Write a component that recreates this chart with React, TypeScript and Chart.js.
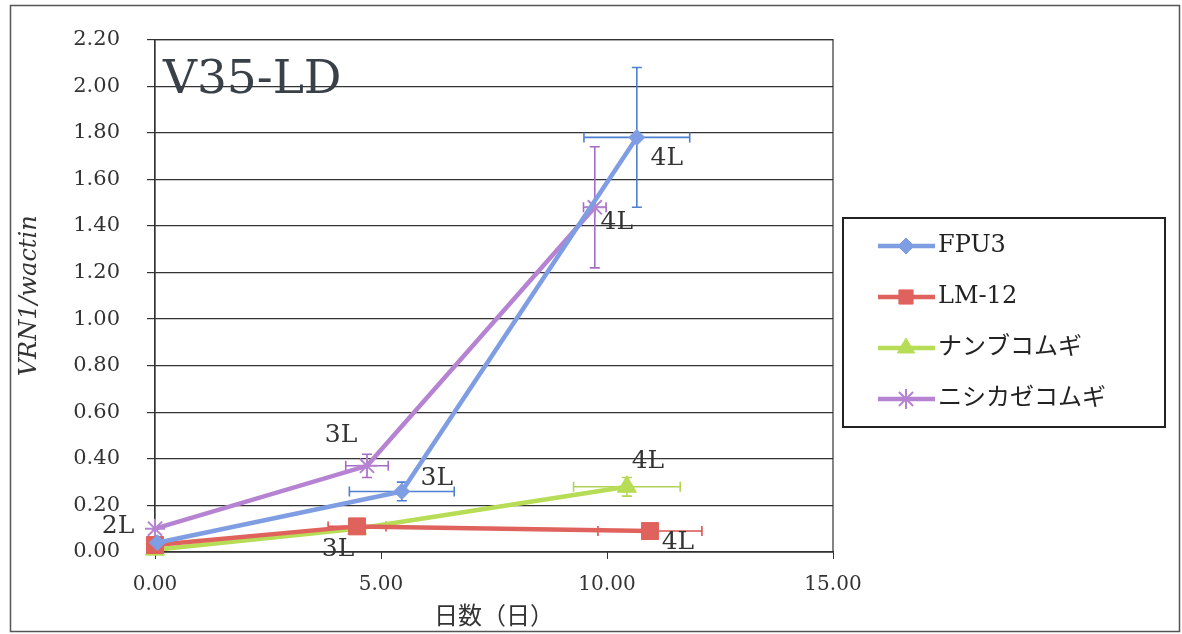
import React, { useEffect, useRef } from 'react';
import { Chart, registerables } from 'chart.js';
import { drawPoint } from 'chart.js/helpers';
Chart.register(...registerables);

// ---- data ----
const seriesNames = ['FPU3', 'LM-12', 'ナンブコムギ', 'ニシカゼコムギ'];

const fpu3X = [0.05, 5.46, 10.66];
const fpu3Y = [0.04, 0.26, 1.78];
const fpu3XErr = [0, 1.16, 1.17];
const fpu3YErr = [0, 0.04, 0.3];
const fpu3Labels = ['', '3L', '4L'];

const lm12X = [0, 4.47, 10.95];
const lm12Y = [0.03, 0.11, 0.09];
const lm12XErr = [0, 0.64, 1.15];
const lm12YErr = [0, 0, 0];
const lm12Labels = ['', '', '4L'];

const nanbuX = [0, 4.47, 10.44];
const nanbuY = [0.01, 0.1, 0.28];
const nanbuXErr = [0, 0, 1.18];
const nanbuYErr = [0, 0, 0.04];
const nanbuLabels = ['', '3L', '4L'];

const nishiX = [0, 4.69, 9.73];
const nishiY = [0.1, 0.37, 1.48];
const nishiXErr = [0, 0.47, 0.25];
const nishiYErr = [0, 0.05, 0.26];
const nishiLabels = ['2L', '3L', '4L'];

const yTicks = [0, 2.2, 0.2];
const xTicks = [0, 15, 5];

// ---- styles ----
const SERIF = "'DejaVu Serif', 'Noto Sans CJK JP', serif";
const GOTHIC = "'Noto Sans CJK JP', sans-serif";
const lineColors = ['#7f9de3', '#e0625c', '#b7dc55', '#b683d2'];
const errColors = ['#4f7fd0', '#d9534f', '#b0d456', '#a66cc4'];
const pointStyles = ['rectRot', 'rect', 'triangle', 'star'];
const pointRadii = [8, 12, 11, 10];
const labelOffsets: (number[] | null)[][] = [
  [null, [35, -13], [30, 21]],
  [null, null, [28, 11]],
  [null, [-19, 21], [21, -25]],
  [[-37, -2], [-26, -30], [22, 15]],
];

const xs = [fpu3X, lm12X, nanbuX, nishiX];
const ys = [fpu3Y, lm12Y, nanbuY, nishiY];
const xErrs = [fpu3XErr, lm12XErr, nanbuXErr, nishiXErr];
const yErrs = [fpu3YErr, lm12YErr, nanbuYErr, nishiYErr];
const labels = [fpu3Labels, lm12Labels, nanbuLabels, nishiLabels];

const decorPlugin = {
  id: 'decor',
  beforeDatasetsDraw(chart: any) {
    const { ctx, chartArea: a, scales } = chart;
    const sx = scales.x, sy = scales.y;
    ctx.save();
    ctx.strokeStyle = '#333';
    ctx.lineWidth = 1.2;
    ctx.strokeRect(a.left, a.top, a.right - a.left, a.bottom - a.top);
    for (let i = 0; i < xs.length; i++) {
      ctx.strokeStyle = errColors[i];
      ctx.lineWidth = 1.6;
      for (let j = 0; j < xs[i].length; j++) {
        const px = sx.getPixelForValue(xs[i][j]);
        const py = sy.getPixelForValue(ys[i][j]);
        const xe = xErrs[i][j], ye = yErrs[i][j];
        if (xe > 0) {
          const l = sx.getPixelForValue(xs[i][j] - xe);
          const r = sx.getPixelForValue(xs[i][j] + xe);
          ctx.beginPath();
          ctx.moveTo(l, py); ctx.lineTo(r, py);
          ctx.moveTo(l, py - 5); ctx.lineTo(l, py + 5);
          ctx.moveTo(r, py - 5); ctx.lineTo(r, py + 5);
          ctx.stroke();
        }
        if (ye > 0) {
          const t = sy.getPixelForValue(ys[i][j] + ye);
          const b = sy.getPixelForValue(ys[i][j] - ye);
          ctx.beginPath();
          ctx.moveTo(px, t); ctx.lineTo(px, b);
          ctx.moveTo(px - 5, t); ctx.lineTo(px + 5, t);
          ctx.moveTo(px - 5, b); ctx.lineTo(px + 5, b);
          ctx.stroke();
        }
      }
    }
    ctx.restore();
  },
  afterDraw(chart: any) {
    const { ctx, chartArea: a, scales } = chart;
    const sx = scales.x, sy = scales.y;
    ctx.save();
    // data labels
    ctx.fillStyle = '#333';
    ctx.font = `25px ${SERIF}`;
    ctx.textAlign = 'center';
    ctx.textBaseline = 'middle';
    for (let i = 0; i < xs.length; i++) {
      for (let j = 0; j < xs[i].length; j++) {
        const off = labelOffsets[i][j];
        if (!labels[i][j] || !off) continue;
        const px = sx.getPixelForValue(xs[i][j]);
        const py = sy.getPixelForValue(ys[i][j]);
        ctx.fillText(labels[i][j], px + off[0], py + off[1]);
      }
    }
    // title
    ctx.fillStyle = '#3a4048';
    ctx.font = `47px ${SERIF}`;
    ctx.textAlign = 'left';
    ctx.textBaseline = 'alphabetic';
    ctx.fillText('V35-LD', a.left + 8, 93);
    // legend
    const lx = 843, ly = 218, lw = 322, lh = 209;
    ctx.strokeStyle = '#222';
    ctx.lineWidth = 2;
    ctx.strokeRect(lx, ly, lw, lh);
    ctx.font = `24px ${SERIF}`;
    ctx.textBaseline = 'middle';
    for (let i = 0; i < seriesNames.length; i++) {
      const y = 246 + 51 * i;
      ctx.strokeStyle = lineColors[i];
      ctx.lineWidth = 4.5;
      ctx.beginPath();
      ctx.moveTo(878, y); ctx.lineTo(935, y);
      ctx.stroke();
      ctx.fillStyle = lineColors[i];
      ctx.strokeStyle = lineColors[i];
      ctx.lineWidth = i === 3 ? 2 : 1;
      drawPoint(ctx, { pointStyle: pointStyles[i], radius: Math.min(pointRadii[i], 10), rotation: 0, borderWidth: 1 } as any, 906, y);
      ctx.fillStyle = '#222';
      ctx.fillText(seriesNames[i], 938, y);
    }
    // outer frame
    ctx.strokeStyle = '#555';
    ctx.lineWidth = 1.5;
    ctx.strokeRect(10.5, 5.5, 1169, 626);
    ctx.restore();
  },
};

export default function App() {
  const ref = useRef<HTMLCanvasElement>(null);
  useEffect(() => {
    if (!ref.current) return;
    const datasets = seriesNames.map((name, i) => ({
      label: name,
      data: xs[i].map((x, j) => ({ x, y: ys[i][j] })),
      showLine: true,
      borderColor: lineColors[i],
      backgroundColor: lineColors[i],
      borderWidth: 4.5,
      pointStyle: pointStyles[i],
      pointRadius: pointRadii[i],
      pointBorderWidth: i === 3 ? 2 : 1,
      pointBorderColor: lineColors[i],
      pointBackgroundColor: lineColors[i],
      clip: false as any,
    }));
    const chart = new Chart(ref.current, {
      type: 'scatter',
      data: { datasets },
      plugins: [decorPlugin],
      options: {
        animation: false,
        responsive: false,
        maintainAspectRatio: false,
        layout: { padding: { left: 10, right: 349, top: 37, bottom: 0 } },
        plugins: { legend: { display: false }, tooltip: { enabled: false } },
        scales: {
          x: {
            type: 'linear',
            min: xTicks[0],
            max: xTicks[1],
            ticks: {
              stepSize: xTicks[2],
              callback: (v: any) => Number(v).toFixed(2),
              font: { family: SERIF, size: 20 },
              color: '#333',
              padding: 14,
              maxRotation: 0,
            },
            grid: { drawOnChartArea: false, drawTicks: true, tickLength: 7, color: '#333' },
            border: { display: true, color: '#333', width: 1.2 },
            title: {
              display: true,
              text: '日数（日）',
              font: { family: GOTHIC, size: 24 },
              color: '#333',
              padding: { top: 0, bottom: 5 },
            },
            afterFit: (s: any) => { s.height = 82; },
          },
          y: {
            type: 'linear',
            min: yTicks[0],
            max: yTicks[1],
            ticks: {
              stepSize: yTicks[2],
              callback: (v: any) => Number(v).toFixed(2),
              font: { family: SERIF, size: 21 },
              color: '#333',
              padding: 27,
            },
            grid: { color: '#333', lineWidth: 1.2, tickLength: 8, drawTicks: true },
            border: { display: true, color: '#333', width: 1.2 },
            title: {
              display: true,
              text: 'VRN1/wactin',
              font: { family: SERIF, size: 24, style: 'italic' },
              color: '#333',
              padding: { top: 5, bottom: 0 },
            },
            afterFit: (s: any) => { s.width = 145; },
          },
        },
      } as any,
    });
    return () => chart.destroy();
  }, []);
  return (
    <div style={{ position: 'fixed', left: 0, top: 0, width: 1182, height: 634, background: '#fff' }}>
      <canvas ref={ref} width={1182} height={634} style={{ width: 1182, height: 634 }} />
    </div>
  );
}
